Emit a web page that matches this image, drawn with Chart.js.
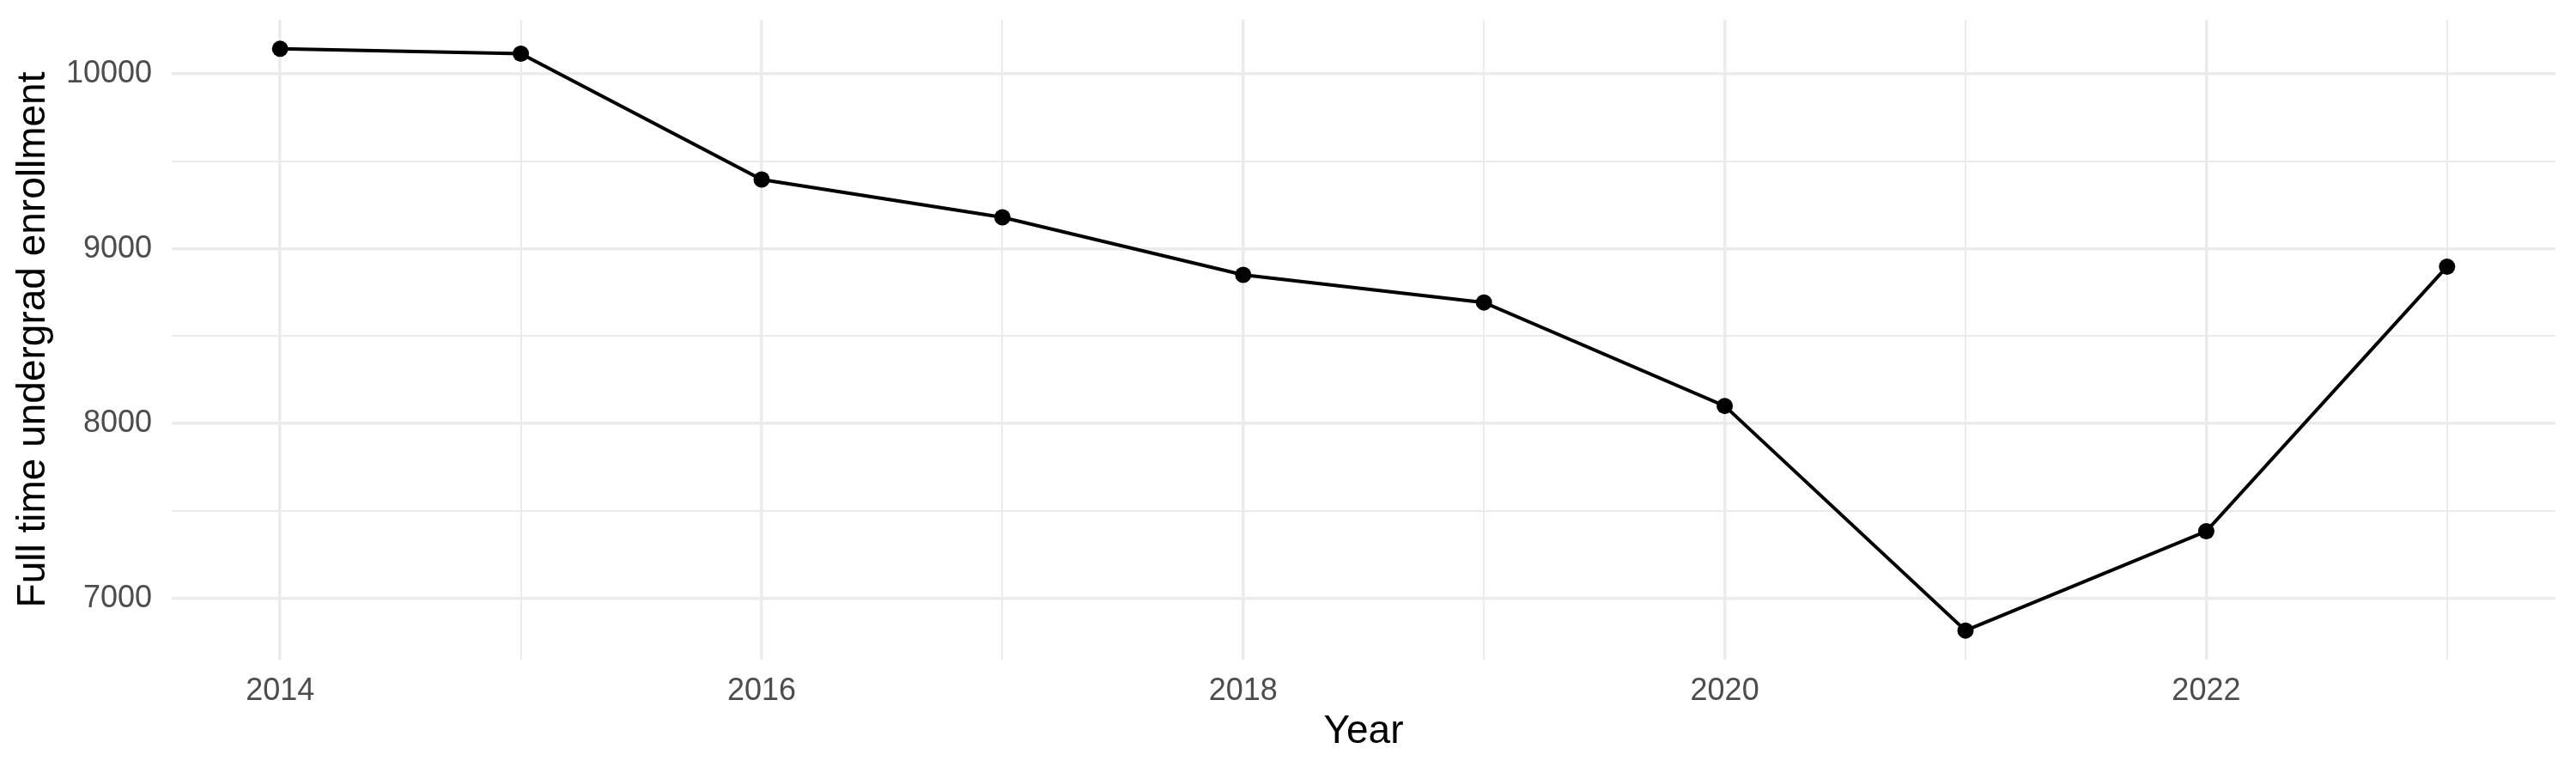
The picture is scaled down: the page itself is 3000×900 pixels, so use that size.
<!doctype html>
<html lang="en">
<head>
    <meta charset="utf-8">
    <title>Full time undergrad enrollment</title>
    <script src="https://cdn.jsdelivr.net/npm/chart.js"></script>
    <style>
        html, body { margin: 0; padding: 0; background: #ffffff; }
    </style>
</head>
<body>
<canvas id="enrollment-chart" width="3000" height="900"></canvas>
<script>
    // DATA
    const years = [2014, 2015, 2016, 2017, 2018, 2019, 2020, 2021, 2022, 2023]
    const enrollment = [10144, 10116, 9396, 9180, 8851, 8693, 8101, 6816, 7384, 8898]

    // TICKS (gridlines at every value, labels only on the labelled ones)
    const xTicks = [2014, 2015, 2016, 2017, 2018, 2019, 2020, 2021, 2022, 2023]
    const xLabelTicks = [2014, 2016, 2018, 2020, 2022]
    const yTicks = [7000, 7500, 8000, 8500, 9000, 9500, 10000]
    const yLabelTicks = [7000, 8000, 9000, 10000]

    // ggplot-like 5% expansion of the data range
    function expand(values) {
        const lo = Math.min(...values)
        const hi = Math.max(...values)
        const pad = (hi - lo) * 0.05
        return [lo - pad, hi + pad]
    }
    const [xMin, xMax] = expand(years)
    const [yMin, yMax] = expand(enrollment)

    const gridColor = "#EBEBEB"
    const tickColor = "#4D4D4D"
    const fontFamily = "'Liberation Sans', Arial, Helvetica, sans-serif"

    new Chart(document.getElementById('enrollment-chart').getContext('2d'), {
        type: 'line',
        data: {
            datasets: [{
                data: years.map((y, i) => ({x: y, y: enrollment[i]})),
                borderColor: "#000000",
                backgroundColor: "#000000",
                borderWidth: 4,
                pointRadius: 9.5,
                pointBorderWidth: 0,
                pointBackgroundColor: "#000000",
                tension: 0,
                fill: false
            }]
        },
        options: {
            responsive: false,
            devicePixelRatio: 1,
            animation: false,
            layout: {
                padding: {top: 23, right: 24, bottom: 0, left: 0}
            },
            plugins: {
                legend: {display: false},
                tooltip: {enabled: false}
            },
            scales: {
                x: {
                    type: 'linear',
                    min: xMin,
                    max: xMax,
                    afterBuildTicks: scale => {
                        scale.ticks = xTicks.map(v => ({value: v}))
                    },
                    afterFit: scale => {
                        scale.height = 132
                        scale.paddingLeft = 0
                        scale.paddingRight = 0
                    },
                    border: {display: false},
                    grid: {
                        color: gridColor,
                        drawTicks: false,
                        lineWidth: ctx => xLabelTicks.includes(ctx.tick.value) ? 3.5 : 2
                    },
                    ticks: {
                        padding: 15,
                        color: tickColor,
                        font: {family: fontFamily, size: 36},
                        maxRotation: 0,
                        autoSkip: false,
                        callback: value => xLabelTicks.includes(value) ? String(value) : ''
                    },
                    title: {
                        display: true,
                        text: 'Year',
                        color: '#000000',
                        font: {family: fontFamily, size: 46},
                        padding: {top: 0, bottom: 20}
                    }
                },
                y: {
                    type: 'linear',
                    min: yMin,
                    max: yMax,
                    afterBuildTicks: scale => {
                        scale.ticks = yTicks.map(v => ({value: v}))
                    },
                    afterFit: scale => {
                        scale.width = 200
                        scale.paddingTop = 0
                        scale.paddingBottom = 0
                    },
                    border: {display: false},
                    grid: {
                        color: gridColor,
                        drawTicks: false,
                        lineWidth: ctx => yLabelTicks.includes(ctx.tick.value) ? 3.5 : 2
                    },
                    ticks: {
                        padding: 23,
                        color: tickColor,
                        font: {family: fontFamily, size: 36},
                        autoSkip: false,
                        callback: value => yLabelTicks.includes(value) ? String(value) : ''
                    },
                    title: {
                        display: true,
                        text: 'Full time undergrad enrollment',
                        color: '#000000',
                        font: {family: fontFamily, size: 46},
                        padding: {top: 12, bottom: 0}
                    }
                }
            }
        }
    })
</script>
</body>
</html>
